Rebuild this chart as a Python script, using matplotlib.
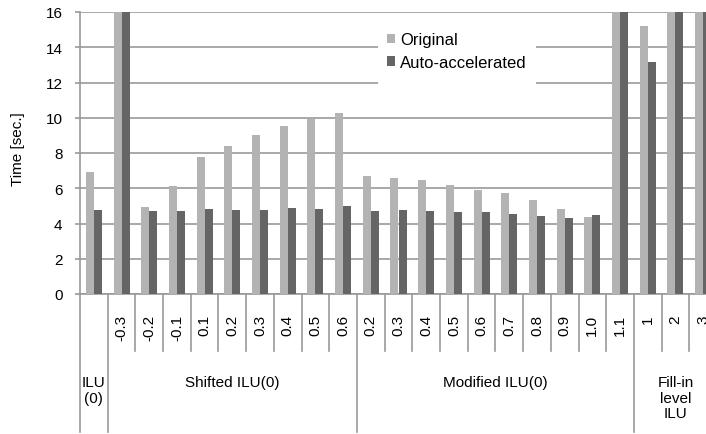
import matplotlib
matplotlib.use('Agg')
import matplotlib.pyplot as plt
from matplotlib.patches import Rectangle
import numpy as np

plt.rcParams['font.family'] = ['Liberation Sans', 'DejaVu Sans']

# sub-category labels (first one, ILU(0), has none)
sub_labels = ['', '-0.3', '-0.2', '-0.1', '0.1', '0.2', '0.3', '0.4', '0.5', '0.6',
              '0.2', '0.3', '0.4', '0.5', '0.6', '0.7', '0.8', '0.9', '1.0', '1.1',
              '1', '2', '3']
groups = ['ILU\n(0)', 'Shifted ILU(0)', 'Modified ILU(0)', 'Fill-in\nlevel\nILU']
group_sizes = [1, 9, 10, 3]

# values above 16 run off the top of the chart
original = [6.93, 20, 4.92, 6.11, 7.76, 8.39, 9.00, 9.53, 9.94, 10.29,
            6.72, 6.60, 6.45, 6.19, 5.92, 5.75, 5.31, 4.82, 4.37, 20,
            15.22, 20, 20]
accelerated = [4.76, 20, 4.73, 4.69, 4.80, 4.78, 4.78, 4.88, 4.84, 4.97,
               4.71, 4.74, 4.69, 4.65, 4.65, 4.52, 4.44, 4.33, 4.46, 20,
               13.17, 20, 20]

LIGHT = '#b3b3b3'
DARK = '#656565'
GRID = '#999999'

fig = plt.figure(figsize=(7.06, 4.35), dpi=100)
# axes runs past the right edge, like the cropped original
ax = fig.add_axes([80 / 706, 140 / 435, 637 / 706, 282 / 435])

x = np.arange(len(sub_labels))
w = 0.29
ax.bar(x - w / 2, original, w, color=LIGHT, label='Original', zorder=3)
ax.bar(x + w / 2, accelerated, w, color=DARK, label='Auto-accelerated', zorder=3)

ax.set_xlim(-0.5, len(sub_labels) - 0.5)
ax.set_ylim(0, 16)
ax.set_yticks(range(0, 17, 2))
ax.yaxis.grid(True, color=GRID, linewidth=1.2, zorder=0)
ax.set_axisbelow(True)
ax.set_xticks([])
for s in ['top', 'right']:
    ax.spines[s].set_visible(False)
for s in ['left', 'bottom']:
    ax.spines[s].set_color(GRID)
    ax.spines[s].set_linewidth(1.2)
ax.tick_params(axis='y', length=3.6, color=GRID, width=1.2, pad=9, labelsize=11)

trans = ax.get_xaxis_transform()

# sub-category labels, rotated
for i, lab in enumerate(sub_labels):
    if lab:
        ax.text(i, -20 / 282, lab, rotation=90, ha='center', va='top',
                fontsize=11, transform=trans, clip_on=False)

# separators: short ones between items, long ones between groups
bounds = np.cumsum([0] + group_sizes) - 0.5
for b in np.arange(-0.5, len(sub_labels)):
    low = -138 / 282 if b in bounds else -57 / 282
    ax.plot([b, b], [0, low], color=GRID, linewidth=1.2, transform=trans,
            clip_on=False)

# group labels
for g, lo, n in zip(groups, bounds[:-1], group_sizes):
    ax.text(lo + n / 2, -81 / 282, g, ha='center', va='top', fontsize=11,
            linespacing=1.15, transform=trans, clip_on=False)

fig.text(18 / 706, (435 - 149) / 435, 'Time [sec.]', rotation=90,
         ha='center', va='center', fontsize=11)

# white box behind the legend hides the gridlines
fig.patches.append(Rectangle((378 / 706, (435 - 88) / 435), 158 / 706, 68 / 435,
                             transform=fig.transFigure, facecolor='white',
                             edgecolor='none', zorder=1))
leg = fig.legend(loc='center', bbox_to_anchor=(457 / 706, (435 - 52) / 435),
                 fontsize=12, frameon=False, handlelength=0.5,
                 handleheight=0.5, handletextpad=0.3, labelspacing=0.45,
                 borderpad=0.3)

fig.savefig('out.png', dpi=100)
